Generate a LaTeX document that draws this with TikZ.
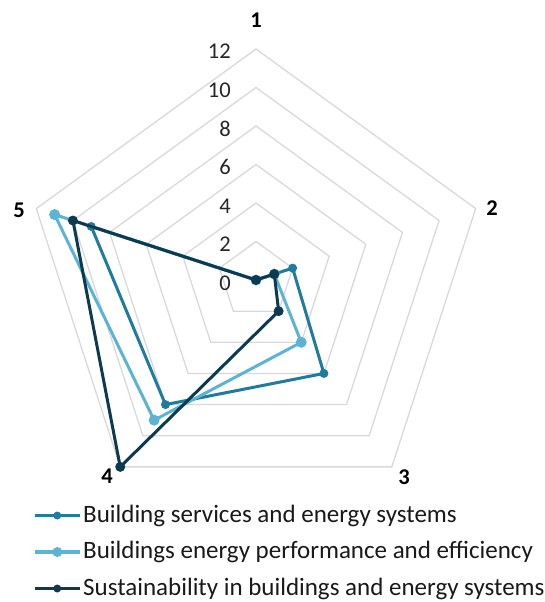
\documentclass[tikz,border=0pt]{standalone}
\usepackage{fontspec}
\setmainfont{Carlito}
\usetikzlibrary{calc}
\definecolor{gridc}{HTML}{D9D9D9}
\definecolor{tealc}{HTML}{1F7C9C}
\definecolor{lightc}{HTML}{5BB3D5}
\definecolor{darkc}{HTML}{0D3A4F}
\begin{document}
\begin{tikzpicture}[x=1pt,y=-1pt,
  gridline/.style={draw=gridc,line width=1.3pt,line join=miter},
  serie/.style={line width=3pt,line join=round},
  mk/.style={circle,fill=#1,inner sep=0pt,minimum size=10pt},
  scalelbl/.style={anchor=east,font=\fontsize{22.5}{26}\selectfont,text=black!85,inner sep=0pt},
  axlbl/.style={font=\fontsize{22.5}{26}\selectfont\bfseries,inner sep=0pt},
  leglbl/.style={anchor=west,font=\fontsize{25}{29}\selectfont,text=black!90,inner sep=0pt}]
\useasboundingbox (0,0) rectangle (545,602);
\coordinate (O) at (256,280);
\def\u{19.25}
% grid pentagons
\foreach \r in {2,4,...,12}{
  \draw[gridline] ($(O)+(-90:\r*\u)$) -- ($(O)+(-18:\r*\u)$) -- ($(O)+(54:\r*\u)$) -- ($(O)+(126:\r*\u)$) -- ($(O)+(198:\r*\u)$) -- cycle;
}
% scale labels
\foreach \v in {0,2,...,12}{
  \node[scalelbl] (s\v) at (231,{283-\v*19.3}) {\v};
}
% axis labels
\node[axlbl] (a1) at (256,20) {1};
\node[axlbl] (a2) at (492,208) {2};
\node[axlbl] (a3) at (404,477) {3};
\node[axlbl] (a4) at (107,476) {4};
\node[axlbl] (a5) at (19,210) {5};
% series: teal 0,2,6,8,9
\coordinate (t1) at ($(O)+(-90:0)$);
\coordinate (t2) at ($(O)+(-18:2*\u)$);
\coordinate (t3) at ($(O)+(54:6*\u)$);
\coordinate (t4) at ($(O)+(126:8*\u)$);
\coordinate (t5) at ($(O)+(198:9*\u)$);
% light 0,1,4,9,11
\coordinate (l1) at ($(O)+(-90:0)$);
\coordinate (l2) at ($(O)+(-18:1*\u)$);
\coordinate (l3) at ($(O)+(54:4*\u)$);
\coordinate (l4) at ($(O)+(126:9*\u)$);
\coordinate (l5) at ($(O)+(198:11*\u)$);
% dark 0,1,2,12,10
\coordinate (d1) at ($(O)+(-90:0)$);
\coordinate (d2) at ($(O)+(-18:1*\u)$);
\coordinate (d3) at ($(O)+(54:2*\u)$);
\coordinate (d4) at ($(O)+(126:12*\u)$);
\coordinate (d5) at ($(O)+(198:10*\u)$);
\draw[serie,tealc] (t1) -- (t2) -- (t3) -- (t4) -- (t5) -- cycle;
\foreach \i in {1,...,5}{\node[mk=tealc,minimum size=9pt] (tm\i) at (t\i) {};}
\draw[serie,lightc] (l1) -- (l2) -- (l3) -- (l4) -- (l5) -- cycle;
\foreach \i in {1,...,5}{\node[mk=lightc,minimum size=11pt] (lm\i) at (l\i) {};}
\draw[serie,darkc] (d1) -- (d2) -- (d3) -- (d4) -- (d5) -- cycle;
\foreach \i in {1,...,5}{\node[mk=darkc,minimum size=10pt] (dm\i) at (d\i) {};}
% legend
\foreach \n/\c/\y/\s/\t in {a/tealc/515.5/8pt/Building services and energy systems,
  b/lightc/552/10pt/Buildings energy performance and efficiency,
  c/darkc/588.5/8pt/Sustainability in buildings and energy systems}{
  \coordinate (ls\n) at (35,\y);
  \coordinate (le\n) at (80,\y);
  \draw[\c,line width=3.3pt] (ls\n) -- (le\n);
  \node[mk=\c,minimum size=\s] (lm\n) at (57.3,\y) {};
  \node[leglbl] (lt\n) at (83,\y) {\t};
}
\end{tikzpicture}
\end{document}
